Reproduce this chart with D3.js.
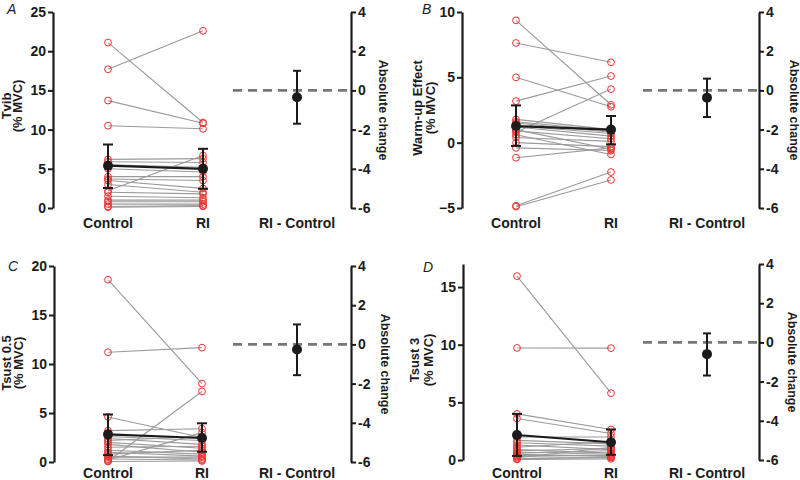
<!DOCTYPE html>
<html><head><meta charset="utf-8">
<script src="https://cdn.jsdelivr.net/npm/d3@7"></script>
<style>
body{margin:0;background:#fff}
svg{display:block}
text{font-family:"Liberation Sans",Arial,Helvetica,sans-serif}
</style></head>
<body><svg id="chart" width="800" height="480"></svg>
<script>
// ---------- data ----------
const groups = ["Control", "RI"];
const diffLabel = "RI - Control";
const diffTicks = [4, 2, 0, -2, -4, -6];

// Panel A: Tvib
const tvibControl = [21.1, 17.7, 13.7, 10.5, 6.2, 5.9, 5.5, 5.0, 4.0, 3.7, 3.5, 3.0, 2.2, 2.0, 1.5, 1.0, 0.8, 0.5, 0.2, 0.1];
const tvibRI      = [10.9, 22.6, 10.8, 10.1, 6.3, 5.8, 5.2, 4.6, 4.0, 3.5, 2.5, 2.0, 6.7, 1.8, 1.3, 1.0, 0.8, 0.5, 0.3, 0.2];
const tvibMean = [5.4, 5.0];
const tvibLow  = [2.55, 2.45];
const tvibHigh = [8.1, 7.55];
const tvibDiff = [-0.35, -1.7, 1.0];   // mean, low, high
const tvibTicks = [0, 5, 10, 15, 20, 25];

// Panel B: Warm-up Effect
const warmControl = [9.36, 7.63, 5.0, 3.18, 1.78, 1.6, 1.5, 1.3, 1.2, 1.0, 0.9, 0.8, 0.6, 0.4, 0.0, -0.4, -1.15, -4.83, -4.9];
const warmRI      = [2.9, 6.15, 2.75, 5.1, 1.0, 0.9, 0.8, 0.7, 0.5, -0.5, 0.3, 4.1, -0.9, 0.1, -0.3, -0.6, -0.4, -2.25, -2.85];
const warmMean = [1.27, 1.0];
const warmLow  = [-0.25, -0.13];
const warmHigh = [2.85, 2.04];
const warmDiff = [-0.37, -1.36, 0.6];
const warmTicks = [-5, 0, 5, 10];

// Panel C: Tsust 0.5
const ts05Control = [18.6, 11.2, 4.6, 3.2, 2.6, 2.4, 2.2, 2.0, 1.8, 1.5, 1.2, 1.0, 0.8, 0.6, 0.5, 0.3, 0.2, 0.1, 0.05];
const ts05RI      = [8.0, 11.67, 2.5, 3.4, 2.2, 1.8, 2.6, 1.4, 1.0, 1.6, 0.8, 0.6, 1.2, 0.3, 0.5, 0.2, 3.0, 7.2, 0.1];
const ts05Mean = [2.82, 2.45];
const ts05Low  = [0.7, 1.05];
const ts05High = [4.85, 3.95];
const ts05Diff = [-0.26, -1.57, 1.02];
const ts05Ticks = [0, 5, 10, 15, 20];

// Panel D: Tsust 3
const ts3Control = [15.95, 9.72, 4.0, 3.6, 2.0, 1.7, 1.5, 1.3, 1.1, 0.9, 0.8, 0.7, 0.6, 0.5, 0.4, 0.3, 0.2, 0.1, 0.05];
const ts3RI      = [5.8, 9.7, 2.65, 2.3, 2.0, 1.4, 1.2, 0.9, 1.6, 0.6, 1.0, 0.5, 0.8, 0.3, 0.4, 0.2, 1.1, 0.25, 0.1];
const ts3Mean = [2.17, 1.54];
const ts3Low  = [0.35, 0.45];
const ts3High = [4.0, 2.65];
const ts3Diff = [-0.6, -1.69, 0.46];
const ts3Ticks = [0, 5, 10, 15];

// ---------- layout ----------
const panels = [
  {letter:"A", title:["Tvib","(% MVC)"], control:tvibControl, ri:tvibRI, mean:tvibMean, low:tvibLow, high:tvibHigh, diff:tvibDiff,
   ticks:tvibTicks, domain:[0,25], axisX:53, top:12, bottom:208, cx:108, rx:203, rAxisX:351, dx:297, dashX0:233,
   letterX:7, letterY:14, t1X:6, t2X:17, tY:106, absX:383, labelY:228},
  {letter:"B", title:["Warm-up Effect","(% MVC)"], control:warmControl, ri:warmRI, mean:warmMean, low:warmLow, high:warmHigh, diff:warmDiff,
   ticks:warmTicks, domain:[-5,10], axisX:462, top:12, bottom:208, cx:516, rx:611, rAxisX:759, dx:707, dashX0:643,
   letterX:422, letterY:14, t1X:417, t2X:430, tY:108, absX:794, labelY:228},
  {letter:"C", title:["Tsust 0.5","(% MVC)"], control:ts05Control, ri:ts05RI, mean:ts05Mean, low:ts05Low, high:ts05High, diff:ts05Diff,
   ticks:ts05Ticks, domain:[0,20], axisX:54, top:266, bottom:462, cx:108, rx:202, rAxisX:351, dx:297, dashX0:233,
   letterX:8, letterY:271, t1X:6, t2X:18, tY:363, absX:385, labelY:478},
  {letter:"D", title:["Tsust 3","(% MVC)"], control:ts3Control, ri:ts3RI, mean:ts3Mean, low:ts3Low, high:ts3High, diff:ts3Diff,
   ticks:ts3Ticks, domain:[0,17], axisX:463, top:264, bottom:460, cx:517, rx:611, rAxisX:759, dx:707, dashX0:643,
   letterX:423, letterY:272, t1X:414, t2X:428, tY:360, absX:792, labelY:478}
];
const diffDomain = [-6, 4];
const INK = "#1b1b1b";

const svg = d3.select("#chart");

function styleAxis(g) {
  g.select(".domain").attr("stroke", INK).attr("stroke-width", 2.2);
  g.selectAll(".tick line").attr("stroke", INK).attr("stroke-width", 2);
  g.selectAll(".tick text").attr("fill", INK).attr("font-size", 14).attr("font-weight", "bold")
    .attr("font-family", '"Liberation Sans",Arial,sans-serif');
}

panels.forEach(p => {
  const g = svg.append("g");
  const y = d3.scaleLinear().domain(p.domain).range([p.bottom, p.top]);
  const x = d3.scalePoint().domain(groups).range([p.cx, p.rx]);
  const yd = d3.scaleLinear().domain(diffDomain).range([p.bottom, p.top]);

  // left axis
  const la = g.append("g").attr("transform", `translate(${p.axisX},0)`)
    .call(d3.axisLeft(y).tickValues(p.ticks).tickSize(5).tickSizeOuter(0).tickPadding(2).tickFormat(d3.format("d")));
  styleAxis(la);

  // right axis
  const ra = g.append("g").attr("transform", `translate(${p.rAxisX},0)`)
    .call(d3.axisRight(yd).tickValues(diffTicks).tickSize(5).tickSizeOuter(0).tickPadding(2).tickFormat(d3.format("d")));
  styleAxis(ra);
  ra.selectAll(".tick text").text(d => d < 0 ? "-" + Math.abs(d) : d);

  // paired lines
  g.append("g").selectAll("line").data(p.control.map((c, i) => [c, p.ri[i]])).join("line")
    .attr("x1", x("Control")).attr("x2", x("RI"))
    .attr("y1", d => y(d[0])).attr("y2", d => y(d[1]))
    .attr("stroke", "#9a9a9a").attr("stroke-width", 1.1);

  // individual circles
  const pts = [];
  p.control.forEach(v => pts.push(["Control", v]));
  p.ri.forEach(v => pts.push(["RI", v]));
  g.append("g").selectAll("circle").data(pts).join("circle")
    .attr("cx", d => x(d[0])).attr("cy", d => y(d[1])).attr("r", 3.4)
    .attr("fill", "none").attr("stroke", "#ee3030").attr("stroke-width", 1);

  // mean line
  g.append("path").datum(groups.map((k, i) => [k, p.mean[i]]))
    .attr("d", d3.line().x(d => x(d[0])).y(d => y(d[1])))
    .attr("stroke", INK).attr("stroke-width", 2.2).attr("fill", "none");

  // error bars
  groups.forEach((k, i) => {
    const xx = x(k);
    g.append("line").attr("x1", xx).attr("x2", xx).attr("y1", y(p.low[i])).attr("y2", y(p.high[i]))
      .attr("stroke", INK).attr("stroke-width", 2);
    [p.low[i], p.high[i]].forEach(v => {
      g.append("line").attr("x1", xx - 5).attr("x2", xx + 5).attr("y1", y(v)).attr("y2", y(v))
        .attr("stroke", INK).attr("stroke-width", 2);
    });
    g.append("circle").attr("cx", xx).attr("cy", y(p.mean[i])).attr("r", 5).attr("fill", INK);
  });

  // zero dashed line
  g.append("line").attr("x1", p.dashX0).attr("x2", p.rAxisX - 2).attr("y1", yd(0)).attr("y2", yd(0))
    .attr("stroke", "#777").attr("stroke-width", 2.6).attr("stroke-dasharray", "9,6");

  // difference
  const [dm, dl, dh] = p.diff;
  g.append("line").attr("x1", p.dx).attr("x2", p.dx).attr("y1", yd(dl)).attr("y2", yd(dh))
    .attr("stroke", INK).attr("stroke-width", 2);
  [dl, dh].forEach(v => g.append("line").attr("x1", p.dx - 4).attr("x2", p.dx + 4).attr("y1", yd(v)).attr("y2", yd(v))
    .attr("stroke", INK).attr("stroke-width", 2));
  g.append("circle").attr("cx", p.dx).attr("cy", yd(dm)).attr("r", 5).attr("fill", INK);

  // x category labels
  groups.forEach(k => {
    g.append("text").attr("x", x(k)).attr("y", p.labelY).attr("text-anchor", "middle")
      .attr("font-size", 14).attr("font-weight", "bold").attr("fill", INK).text(k);
  });
  g.append("text").attr("x", p.dx).attr("y", p.labelY).attr("text-anchor", "middle")
    .attr("font-size", 14).attr("font-weight", "bold").attr("fill", INK).text(diffLabel);

  // panel letter
  g.append("text").attr("x", p.letterX).attr("y", p.letterY).attr("font-size", 14)
    .attr("font-style", "italic").attr("fill", INK).text(p.letter);

  // left titles
  [p.t1X, p.t2X].forEach((tx, i) => {
    g.append("text").attr("transform", `translate(${tx},${p.tY}) rotate(-90)`)
      .attr("text-anchor", "middle").attr("dominant-baseline", "central")
      .attr("font-size", 13).attr("font-weight", "bold").attr("fill", INK).text(p.title[i]);
  });

  // right title
  g.append("text").attr("transform", `translate(${p.absX},${(p.top + p.bottom) / 2}) rotate(90)`)
    .attr("text-anchor", "middle").attr("dominant-baseline", "central")
    .attr("font-size", 12.5).attr("font-weight", "bold").attr("fill", INK).text("Absolute change");
});
</script>
</body></html>
